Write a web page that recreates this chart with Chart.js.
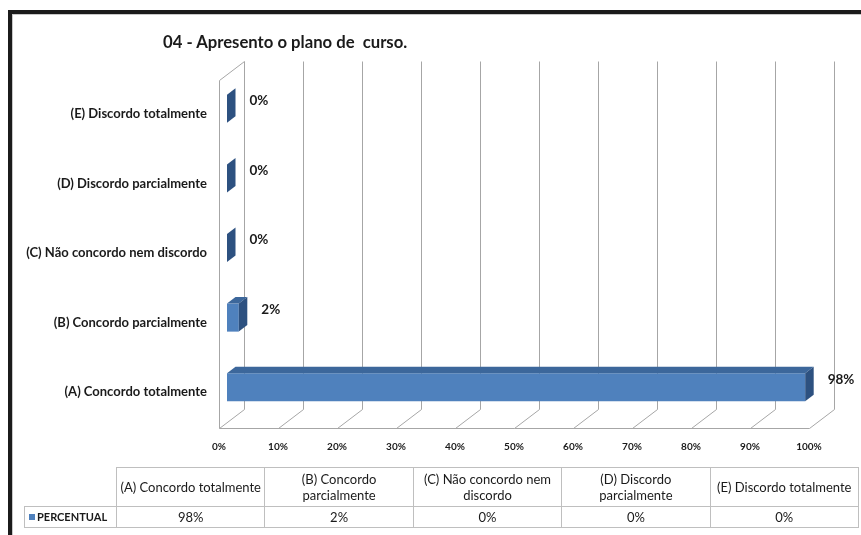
<!DOCTYPE html>
<html lang="pt">
<head>
<meta charset="utf-8">
<title>04 - Apresento o plano de curso.</title>
<script src="https://cdn.jsdelivr.net/npm/chart.js@4.4.1/dist/chart.umd.min.js"></script>
<style>
  html, body { margin: 0; padding: 0; background: #fff; }
  body { width: 861px; height: 535px; position: relative; overflow: hidden; font-family: Lato, 'Liberation Sans', sans-serif; color: #1a1a1a; }
  #frame { position: absolute; left: 8px; top: 10px; right: -10px; bottom: -10px; border-top: 4px solid #1b1b1b; border-left: 4px solid #1b1b1b; box-shadow: inset 1px 1px 0 #c8c8c8; }
  #chartBox { position: absolute; left: 0; top: 0; width: 861px; height: 535px; }
  #title { position: absolute; left: 163px; top: 32px; font-weight: bold; font-size: 16.7px; white-space: pre; }
  #dataTable { position: absolute; left: 24px; top: 467px; border-collapse: collapse; table-layout: fixed; font-size: 13px; color: #1a1a1a; }
  #dataTable td { border: 1px solid #bfbfbf; text-align: center; padding: 0 3px; line-height: 16px; }
  #dataTable tr.head td { height: 38px; }
  #dataTable tr.body td { height: 20px; }
  #dataTable td.corner { border-top: none; border-left: none; }
  #dataTable td.rowname { text-align: left; font-weight: bold; font-size: 11px; padding-left: 4px; }
  #dataTable .key { display: inline-block; width: 6px; height: 6px; background: #4f81bd; margin-right: 2px; vertical-align: 1px; }
</style>
</head>
<body>
<div id="chartBox"><canvas id="chart"></canvas></div>
<div id="title">04 - Apresento o plano de  curso.</div>
<table id="dataTable"></table>
<div id="frame"></div>

<script>
// dados do gráfico
const categorias = ['(A) Concordo totalmente', '(B) Concordo parcialmente', '(C) Não concordo nem discordo', '(D) Discordo parcialmente', '(E) Discordo totalmente'];
const percentual = [98, 2, 0, 0, 0];
const serieNome = 'PERCENTUAL';
const eixoX = [0, 10, 20, 30, 40, 50, 60, 70, 80, 90, 100];

// efeito 3D: paredes, piso, faces das barras e rótulos
const efeito3d = {
  id: 'efeito3d',
  beforeDatasetsDraw(chart, args, opts) {
    const { ctx, chartArea: a, scales: { x } } = chart;
    const f = opts.front, b = opts.back;
    const px = v => Math.round(x.getPixelForValue(v)) + 0.5;
    const yTopF = Math.round(a.top + f.dy) + 0.5, yBotF = Math.round(a.bottom + f.dy) + 0.5;
    const yTopB = Math.round(a.top + b.dy) + 0.5, yBotB = Math.round(a.bottom + b.dy) + 0.5;
    const fx = v => px(v) + Math.round(f.dx);
    const bx = v => px(v) + Math.round(b.dx);

    ctx.save();
    ctx.strokeStyle = opts.gridColor;
    ctx.lineWidth = 1;
    ctx.beginPath();
    x.ticks.forEach(t => {
      ctx.moveTo(bx(t.value), yTopB);
      ctx.lineTo(bx(t.value), yBotB);
      ctx.lineTo(fx(t.value), yBotF);
    });
    // piso (borda frontal)
    ctx.moveTo(fx(x.min), yBotF);
    ctx.lineTo(fx(x.max), yBotF);
    // parede esquerda
    ctx.moveTo(fx(x.min), yBotF);
    ctx.lineTo(fx(x.min), yTopF);
    ctx.lineTo(bx(x.min), yTopB);
    ctx.stroke();
    ctx.restore();
  },
  afterDatasetsDraw(chart, args, opts) {
    const { ctx } = chart;
    const d = opts.bar;
    const meta = chart.getDatasetMeta(0);
    ctx.save();
    meta.data.forEach((bar, i) => {
      const { x: xe, y: yc, base, height } = bar.getProps(['x', 'y', 'base', 'height'], true);
      const top = yc - height / 2, bot = yc + height / 2;
      // face superior
      ctx.fillStyle = opts.topColor;
      ctx.beginPath();
      ctx.moveTo(base, top);
      ctx.lineTo(base + d.dx, top + d.dy);
      ctx.lineTo(xe + d.dx, top + d.dy);
      ctx.lineTo(xe, top);
      ctx.closePath();
      ctx.fill();
      // face lateral
      ctx.fillStyle = opts.sideColor;
      ctx.beginPath();
      ctx.moveTo(xe, top);
      ctx.lineTo(xe + d.dx, top + d.dy);
      ctx.lineTo(xe + d.dx, bot + d.dy);
      ctx.lineTo(xe, bot);
      ctx.closePath();
      ctx.fill();
      // rótulo de valor
      ctx.fillStyle = '#1a1a1a';
      ctx.font = 'bold 13.5px Lato, sans-serif';
      ctx.textAlign = 'left';
      ctx.textBaseline = 'middle';
      ctx.fillText(percentual[i] + '%', xe + d.dx + opts.labelGap, yc + opts.labelDy);
    });
    ctx.restore();
  }
};

// tabela de dados
function montarTabela() {
  const tabela = document.getElementById('dataTable');
  const larguras = [92].concat(categorias.map(() => 148.4));
  let html = '<colgroup>' + larguras.map(w => `<col style="width:${w}px">`).join('') + '</colgroup>';
  html += '<tr class="head"><td class="corner"></td>' + categorias.map(c => `<td>${c}</td>`).join('') + '</tr>';
  html += `<tr class="body"><td class="rowname"><span class="key"></span>${serieNome}</td>` +
    percentual.map(v => `<td>${v}%</td>`).join('') + '</tr>';
  tabela.innerHTML = html;
}

montarTabela();

new Chart(document.getElementById('chart'), {
  type: 'bar',
  data: {
    labels: categorias,
    datasets: [{
      label: serieNome,
      data: percentual,
      backgroundColor: '#4f81bd',
      borderWidth: 0,
      barPercentage: 0.403,
      categoryPercentage: 1
    }]
  },
  options: {
    indexAxis: 'y',
    responsive: true,
    maintainAspectRatio: false,
    animation: false,
    layout: { padding: { left: 0, top: 74, right: 44, bottom: 0 } },
    plugins: {
      legend: { display: false },
      tooltip: { enabled: false },
      efeito3d: {
        front: { dx: -7.8, dy: 6 },
        back: { dx: 17, dy: -13 },
        bar: { dx: 8.5, dy: -6.5 },
        gridColor: '#a6a6a6',
        topColor: '#3c679b',
        sideColor: '#2d5180',
        labelGap: 14,
        labelDy: -8
      }
    },
    scales: {
      x: {
        min: eixoX[0],
        max: eixoX[eixoX.length - 1],
        afterBuildTicks: scale => { scale.ticks = eixoX.map(v => ({ value: v })); },
        afterFit: scale => { scale.height = 113; },
        grid: { display: false, drawTicks: false },
        border: { display: false },
        ticks: {
          padding: 19,
          labelOffset: -8,
          maxRotation: 0,
          autoSkip: false,
          color: '#1a1a1a',
          font: { family: 'Lato', size: 10, weight: 'bold' },
          callback: v => v + '%'
        }
      },
      y: {
        reverse: true,
        afterFit: scale => { scale.width = 227; },
        grid: { display: false, drawTicks: false },
        border: { display: false },
        ticks: {
          padding: 20,
          labelOffset: 5,
          color: '#1a1a1a',
          font: { family: 'Lato', size: 13, weight: 'bold' }
        }
      }
    }
  },
  plugins: [efeito3d]
});
</script>
</body>
</html>
